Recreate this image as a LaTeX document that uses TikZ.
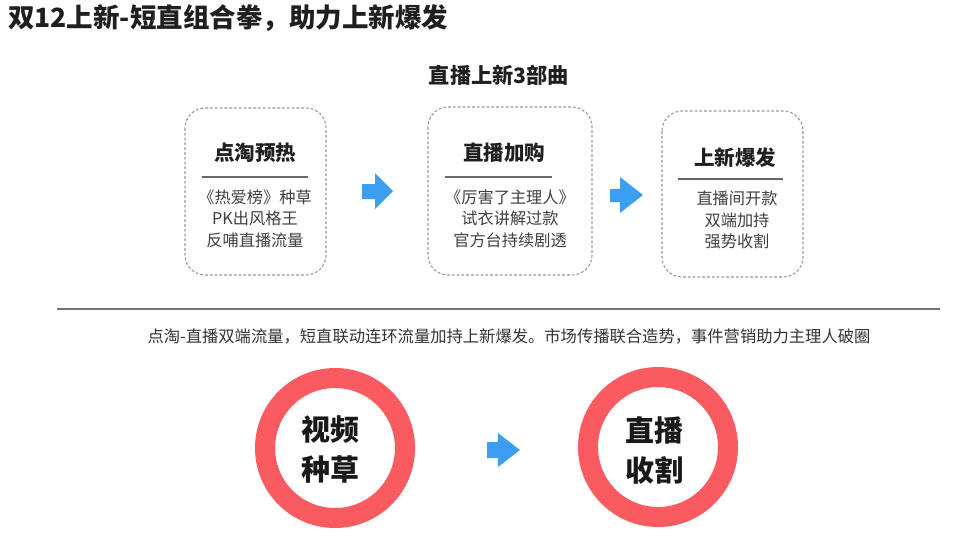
\documentclass[tikz,border=0pt]{standalone}
\usepackage{fontspec}
\setmainfont{Noto Sans CJK SC}
\begin{document}
\begin{tikzpicture}[x=1pt,y=-1pt,
  boxframe/.style={draw=black!40, line width=1.1pt, dash pattern=on 2.8pt off 2pt, rounded corners=20pt},
  heading/.style={font=\fontsize{20.5}{24}\selectfont\bfseries, text=black!88, inner sep=0pt},
  bodytxt/.style={font=\fontsize{16.2}{21.5}\selectfont, text=black!75, align=center, inner sep=0pt},
  rulegray/.style={draw=black!60, line width=1.1pt},
  bluearrow/.style={fill=arrowblue},
  ring/.style={draw=ringred, line width=20pt},
  ringtxt/.style={font=\fontsize{29}{40}\selectfont\bfseries, text=black!90, align=center, inner sep=0pt}
]
\definecolor{arrowblue}{HTML}{3B9EF0}
\definecolor{ringred}{HTML}{F95B60}
\useasboundingbox (0,0) rectangle (968,539);
\fill[white] (0,0) rectangle (968,539);

% title
\node[anchor=west, inner sep=0pt, font=\fontsize{26.5}{30}\selectfont\bfseries, text=black!88] (title) at (8,18) {双12上新-短直组合拳，助力上新爆发};
\node[inner sep=0pt, font=\fontsize{21.2}{24}\selectfont\bfseries, text=black!88] (sub) at (499,75) {直播上新3部曲};

% boxes
\draw[boxframe] (185,108) rectangle (326,275);
\node[minimum width=141pt, minimum height=167pt, inner sep=0pt] (b1) at (255.5,191.5) {};
\draw[boxframe] (428,107) rectangle (592,275);
\node[minimum width=164pt, minimum height=168pt, inner sep=0pt] (b2) at (510,191) {};
\draw[boxframe] (662,111) rectangle (803,277);
\node[minimum width=141pt, minimum height=166pt, inner sep=0pt] (b3) at (732.5,194) {};

% box 1
\node[heading] (h1) at (255,153) {点淘预热};
\coordinate (l1a) at (202,177); \coordinate (l1b) at (308,177);
\draw[rulegray] (l1a) -- (l1b);
\node[bodytxt] (t1) at (255,218.5) {《热爱榜》种草\\PK出风格王\\反哺直播流量};

% box 2
\node[heading] (h2) at (504,153) {直播加购};
\coordinate (l2a) at (445,177); \coordinate (l2b) at (552,177);
\draw[rulegray] (l2a) -- (l2b);
\node[bodytxt] (t2) at (510,218.5) {《厉害了主理人》\\试衣讲解过款\\官方台持续剧透};

% box 3
\node[heading] (h3) at (735,158) {上新爆发};
\coordinate (l3a) at (678,179); \coordinate (l3b) at (783,179);
\draw[rulegray] (l3a) -- (l3b);
\node[bodytxt] (t3) at (737,220) {直播间开款\\双端加持\\强势收割};

% blue arrows
\fill[bluearrow] (362,184) -- (375,184) -- (375,173) -- (393,191) -- (375,209) -- (375,199) -- (362,199) -- cycle;
\fill[bluearrow] (610,189) -- (620,189) -- (620,177) -- (643,195) -- (620,213) -- (620,202) -- (610,202) -- cycle;
\fill[bluearrow] (487,442) -- (498,442) -- (498,433) -- (520,450) -- (498,467) -- (498,458) -- (487,458) -- cycle;

% separator
\coordinate (sepa) at (57,309); \coordinate (sepb) at (940,309);
\draw[draw=black!55, line width=1.3pt] (sepa) -- (sepb);

\node[inner sep=0pt, font=\fontsize{16.3}{18}\selectfont, text=black!80] (desc) at (509,336) {点淘-直播双端流量，短直联动连环流量加持上新爆发。市场传播联合造势，事件营销助力主理人破圈};

% rings
\node[circle, minimum size=140pt, inner sep=0pt, ring] (c1) at (335,448) {};
\node[ringtxt] (c1t) at (330,449) {视频\\种草};
\node[circle, minimum size=140pt, inner sep=0pt, ring] (c2) at (658,447) {};
\node[ringtxt] (c2t) at (654,450) {直播\\收割};
\end{tikzpicture}
\end{document}
